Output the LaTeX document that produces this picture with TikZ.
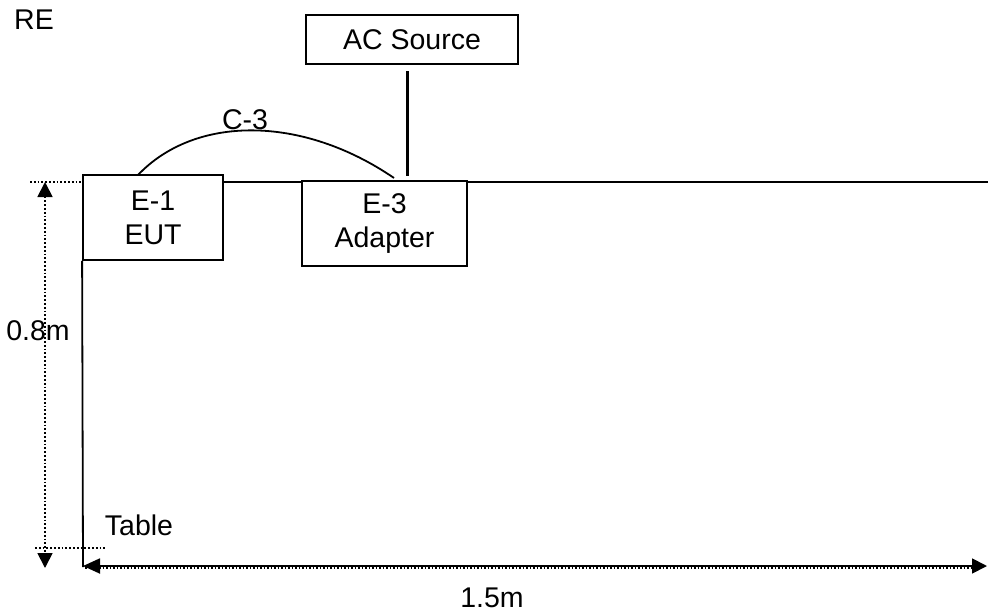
\documentclass[tikz,border=0pt]{standalone}
\usepackage{fontspec}
\setmainfont{Liberation Sans}
\usetikzlibrary{arrows.meta}
\begin{document}
\begin{tikzpicture}[x=1pt,y=-1pt,
  font=\fontsize{28.5}{34}\selectfont,
  unit/.style={draw,line width=1.8pt,align=center,inner sep=0pt},
  cable/.style={line width=1.8pt},
  dimline/.style={line width=1.8pt,dotted},
  lbl/.style={inner sep=0pt}]
\useasboundingbox (0,0) rectangle (988,613);
% equipment
\node[unit,minimum width=140pt,minimum height=85pt] (eut) at (153,217.5) {E-1\\EUT};
\node[unit,minimum width=165pt,minimum height=85pt] (adp) at (384.5,223.5) {E-3\\Adapter};
\node[unit,minimum width=212pt,minimum height=49pt] (ac) at (412,39.5) {AC Source};
% table outline
\coordinate (tr) at (988,182);
\coordinate (bl) at (83,567);
\draw[cable] (eut.east |- tr) -- (adp.west |- tr);
\draw[cable] (adp.east |- tr) -- (tr);
\draw[cable] (eut.south west) -- (bl);
% cables
\coordinate (c3a) at (138,175);
\coordinate (c3b) at (394,178);
\draw[cable] (c3a) .. controls (195,115) and (302,115) .. (c3b);
\coordinate (acdown) at (407,71);
\coordinate (adup) at (407,176);
\draw[line width=3pt] (acdown) -- (adup);
% dimensions
\coordinate (ht) at (45,182);
\coordinate (hb) at (45,568);
\draw[dimline] (30,182) -- (eut.west |- tr);
\draw[dimline] (35,548) -- (106,548);
\draw[dimline,{Triangle[width=15pt,length=15pt]}-{Triangle[width=15pt,length=15pt]}] (ht) -- (hb);
\coordinate (wr) at (987,566);
\draw[line width=1.8pt,{Triangle[width=15pt,length=17pt]}-{Triangle[width=15pt,length=15pt]}] (bl |- wr) -- (wr);
\draw[line width=1.5pt,dotted] (85,568) -- (975,568);
% labels
\node[lbl] (re) at (34,20) {RE};
\node[lbl] (c3) at (245,120) {C-3};
\node[lbl] (h) at (38,331) {0.8m};
\node[lbl] (tab) at (139,525) {Table};
\node[lbl] (w) at (492,598) {1.5m};
\end{tikzpicture}
\end{document}
